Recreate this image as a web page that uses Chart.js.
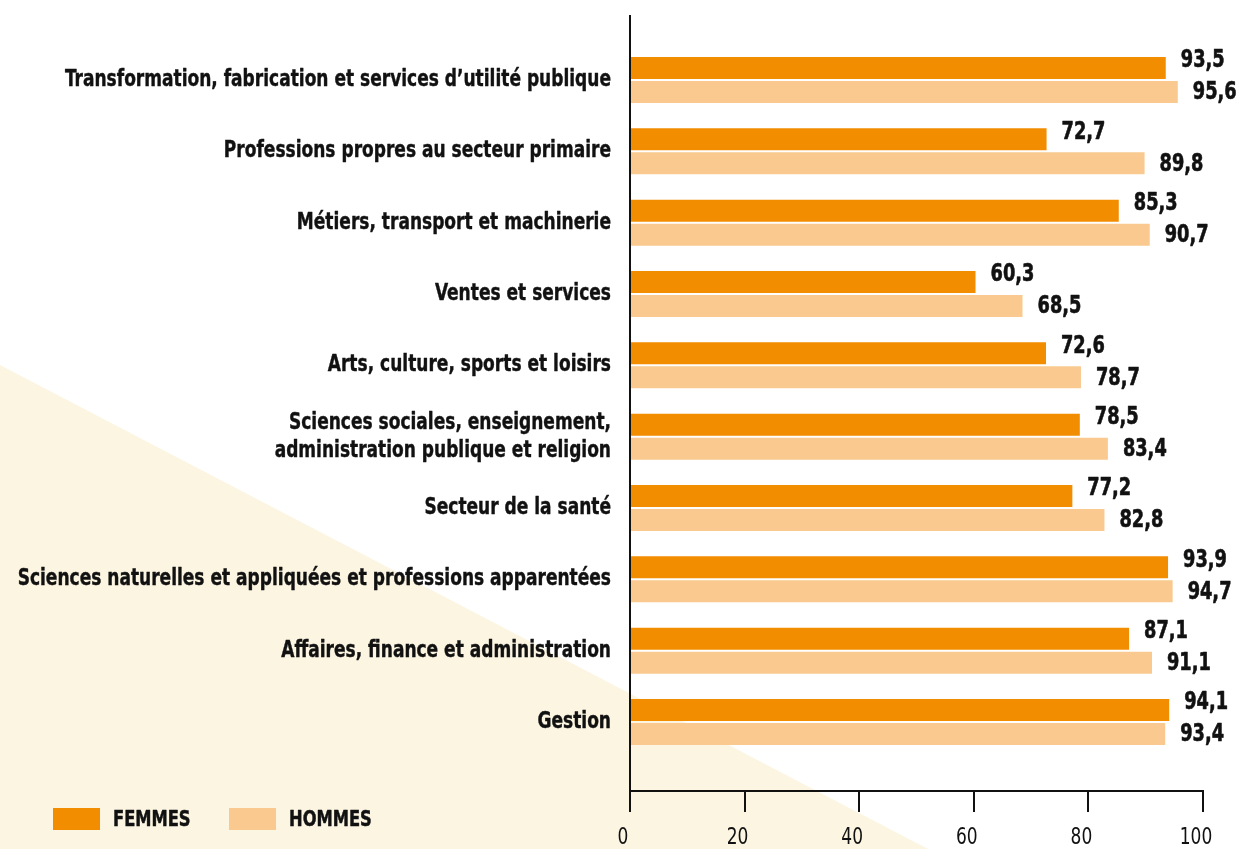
<!DOCTYPE html>
<html lang="fr">
<head>
<meta charset="utf-8">
<title>Femmes / Hommes</title>
<script src="https://cdn.jsdelivr.net/npm/chart.js@4/dist/chart.umd.min.js"></script>
<style>
    html, body { margin: 0; padding: 0; background: #ffffff; }
    #wrap { position: relative; width: 1241px; height: 849px; }
</style>
</head>
<body>
<div id="wrap"><canvas id="barChart"></canvas></div>
<script>
const categories = [
    'Transformation, fabrication et services d’utilité publique',
    'Professions propres au secteur primaire',
    'Métiers, transport et machinerie',
    'Ventes et services',
    'Arts, culture, sports et loisirs',
    ['Sciences sociales, enseignement,', 'administration publique et religion'],
    'Secteur de la santé',
    'Sciences naturelles et appliquées et professions apparentées',
    'Affaires, finance et administration',
    'Gestion'
];
const femmes = [93.5, 72.7, 85.3, 60.3, 72.6, 78.5, 77.2, 93.9, 87.1, 94.1];
const hommes = [95.6, 89.8, 90.7, 68.5, 78.7, 83.4, 82.8, 94.7, 91.1, 93.4];
const xTicks = [0, 20, 40, 60, 80, 100];
const seriesNames = ['FEMMES', 'HOMMES'];

const FONT = "'DejaVu Sans Condensed', 'DejaVu Sans', sans-serif";
const colFemmes = '#f28d00';
const colHommes = '#f9c98f';
const colTexte  = '#111111';

// police étroite : on resserre le texte horizontalement
let CX = 1;
function condensedText(c, text, x, y, align, bold = 0) {
    c.save();
    c.translate(x, y);
    c.scale(CX, 1);
    c.textAlign = align;
    if (bold) {
        c.lineWidth   = bold;
        c.strokeStyle = c.fillStyle;
        c.lineJoin    = 'round';
        c.strokeText(text, 0, 0);
    }
    c.fillText(text, 0, 0);
    c.restore();
}

// fond beige en triangle, en bas à gauche
const backgroundPlugin = {
    id: 'fond',
    beforeDraw(chart) {
        const c = chart.ctx;
        c.save();
        c.fillStyle = '#ffffff';
        c.fillRect(0, 0, chart.width, chart.height);
        c.fillStyle = '#fbf5e1';
        c.beginPath();
        c.moveTo(0, 365);
        c.lineTo(928, chart.height);
        c.lineTo(0, chart.height);
        c.closePath();
        c.fill();
        c.restore();
    }
};

// libellés, valeurs et légende
const textPlugin = {
    id: 'textes',
    afterDraw(chart) {
        const c = chart.ctx;
        const yScale = chart.scales.y;
        const xScale = chart.scales.x;
        c.save();
        c.fillStyle = colTexte;
        c.textBaseline = 'middle';

        c.font = `bold 23px ${FONT}`;
        CX = 546 / c.measureText(categories[0]).width;

        // catégories
        categories.forEach((label, i) => {
            let y = yScale.getPixelForValue(i);
            if (Array.isArray(label)) {
                condensedText(c, label[0], 611, y - 14, 'right', 0.4);
                condensedText(c, label[1], 611, y + 14, 'right', 0.4);
            } else {
                condensedText(c, label, 611, y, 'right', 0.4);
            }
        });

        // valeurs
        c.font = `bold 24px ${FONT}`;
        chart.data.datasets.forEach((ds, d) => {
            chart.getDatasetMeta(d).data.forEach((bar, i) => {
                let txt = ds.data[i].x.toFixed(1).replace('.', ',');
                condensedText(c, txt, bar.x + 15, bar.y + (d === 0 ? -7 : 1), 'left', 0.6);
            });
        });

        // graduations
        c.font = `23px ${FONT}`;
        xTicks.forEach(v => {
            condensedText(c, String(v), xScale.getPixelForValue(v) - 7, 838, 'center');
        });

        // légende
        const items = [
            {x: 53, text: seriesNames[0], color: colFemmes},
            {x: 229, text: seriesNames[1], color: colHommes}
        ];
        c.font = `bold 22px ${FONT}`;
        items.forEach(it => {
            c.fillStyle = it.color;
            c.fillRect(it.x, 808, 47, 22);
            c.fillStyle = colTexte;
            condensedText(c, it.text, it.x + 60, 820, 'left', 0.5);
        });
        c.restore();
    }
};

const ctx = document.getElementById('barChart');

new Chart(ctx, {
    type: 'bar',
    data: {
        datasets: [
            {
                label          : seriesNames[0],
                data           : femmes.map((v, i) => ({x: v, y: i})),
                backgroundColor: colFemmes
            },
            {
                label          : seriesNames[1],
                data           : hommes.map((v, i) => ({x: v, y: i})),
                backgroundColor: colHommes
            }
        ]
    },
    options: {
        indexAxis          : 'y',
        responsive         : true,
        maintainAspectRatio: false,
        animation          : false,
        categoryPercentage : 0.673,
        barPercentage      : 0.917,
        layout: {
            padding: {top: 16, right: 38, left: 0, bottom: 0}
        },
        plugins: {
            legend : {display: false},
            tooltip: {enabled: false}
        },
        scales: {
            y: {
                type   : 'linear',
                reverse: true,
                offset : false,
                min    : -0.897,
                max    : 9.967,
                grid   : {display: false},
                border : {display: true, color: colTexte, width: 2},
                ticks  : {display: false},
                afterBuildTicks: scale => {
                    scale.ticks = categories.map((c, i) => ({value: i}));
                },
                afterFit: scale => {
                    scale.width = 630;
                }
            },
            x: {
                min : 0,
                max : 100,
                grid: {
                    drawOnChartArea: false,
                    drawTicks      : true,
                    tickLength     : 21,
                    color          : colTexte,
                    lineWidth      : 2
                },
                border: {display: true, color: colTexte, width: 2},
                afterBuildTicks: scale => {
                    scale.ticks = xTicks.map(v => ({value: v}));
                },
                ticks: {display: false},
                afterFit: scale => {
                    scale.height = 58;
                }
            }
        }
    },
    plugins: [backgroundPlugin, textPlugin]
});
</script>
</body>
</html>
